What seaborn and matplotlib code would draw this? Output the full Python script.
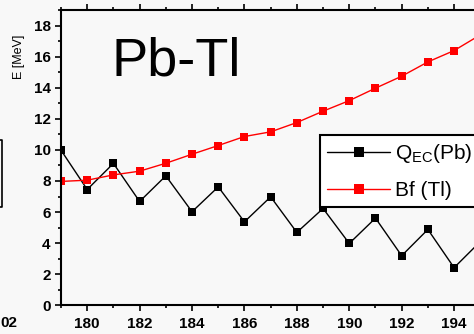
import matplotlib
matplotlib.use("Agg")
import matplotlib.pyplot as plt
from matplotlib.lines import Line2D
from matplotlib.ticker import MultipleLocator
import seaborn as sns
import pandas as pd

# ---- data ----
mass_numbers = [179, 180, 181, 182, 183, 184, 185, 186, 187, 188, 189, 190, 191, 192, 193, 194, 195]
qec_pb = [9.98, 7.45, 9.13, 6.68, 8.33, 6.02, 7.62, 5.37, 6.98, 4.69, 6.23, 3.98, 5.61, 3.19, 4.88, 2.42, 4.1]
bf_tl = [7.97, 8.05, 8.39, 8.63, 9.14, 9.72, 10.28, 10.86, 11.16, 11.76, 12.49, 13.17, 13.97, 14.74, 15.66, 16.39, 17.4]
series_labels = [r"Q$_{\mathrm{EC}}$(Pb)", "Bf (Tl)"]
x_ticks = [180, 182, 184, 186, 188, 190, 192, 194]
y_ticks = [0, 2, 4, 6, 8, 10, 12, 14, 16, 18]
title_text = "Pb-Tl"
y_label = "E [MeV]"

df = pd.DataFrame({
    "A": mass_numbers * 2,
    "E": qec_pb + bf_tl,
    "series": [series_labels[0]] * len(mass_numbers) + [series_labels[1]] * len(mass_numbers),
})

sns.set_style("ticks")
plt.rcParams["font.family"] = ["Liberation Sans", "DejaVu Sans"]
plt.rcParams["mathtext.fontset"] = "custom"
plt.rcParams["mathtext.rm"] = "Liberation Sans"
plt.rcParams["mathtext.it"] = "Liberation Sans:italic"
plt.rcParams["mathtext.bf"] = "Liberation Sans:bold"
for key in ["text.color", "axes.labelcolor", "xtick.color", "ytick.color", "axes.edgecolor"]:
    plt.rcParams[key] = "black"

bg = "#f8f8f8"
fig = plt.figure(figsize=(4.74, 3.34), dpi=100, facecolor=bg)
W, H = 474, 334
left_px, top_px, bottom_px = 61, 10, 305.3
right_px = 87.3 + 15 * 26.2
ax = fig.add_axes([left_px / W, 1 - bottom_px / H, (right_px - left_px) / W, (bottom_px - top_px) / H])
ax.set_facecolor(bg)

palette = {series_labels[0]: "black", series_labels[1]: "#ff0000"}
sns.lineplot(data=df, x="A", y="E", hue="series", palette=palette, marker="s",
             markersize=6.3, markeredgewidth=0, linewidth=1.0, ax=ax, legend=False)

ax.set_xlim(179, 195)
ax.set_ylim(0, 19)
ax.set_xticks(x_ticks)
ax.set_yticks(y_ticks)
ax.xaxis.set_minor_locator(MultipleLocator(1))
ax.yaxis.set_minor_locator(MultipleLocator(1))
for lab in ax.get_xticklabels() + ax.get_yticklabels():
    lab.set_fontweight("bold")
    lab.set_fontsize(11)
    lab.set_color("black")
ax.tick_params(axis="both", which="major", direction="out", length=4.5, width=1.2, color="black", pad=2)
ax.tick_params(axis="both", which="minor", direction="out", length=2.5, width=1.2, color="black")
ax.tick_params(axis="x", which="both", top=True, labeltop=False)
ax.tick_params(axis="x", which="major", pad=4)
ax.tick_params(axis="y", which="major", pad=3)
for side in ["left", "bottom", "top", "right"]:
    ax.spines[side].set_linewidth(1.5)
    ax.spines[side].set_color("black")
ax.set_xlabel("")
ax.set_ylabel(y_label, fontsize=9, color="black")
ax.yaxis.set_label_coords(-(left_px - 25) / (right_px - left_px), 0.84)

ax.text(111 / W, 1 - 76 / H, title_text, transform=fig.transFigure, fontsize=39,
        ha="left", va="baseline", color="black")

handles = [
    Line2D([], [], color="black", marker="s", markersize=7, markeredgewidth=0, linewidth=1.0),
    Line2D([], [], color="#ff0000", marker="s", markersize=7, markeredgewidth=0, linewidth=1.0),
]
leg = fig.legend(handles, series_labels, loc="upper left", bbox_to_anchor=(320 / W, 1 - 135 / H),
                 fontsize=15, frameon=True, fancybox=False, handlelength=3.0, handletextpad=0.25,
                 borderpad=0.35, labelspacing=0.75, borderaxespad=0)
leg.get_frame().set_edgecolor("black")
leg.get_frame().set_linewidth(1.5)
leg.get_frame().set_facecolor("white")
leg.get_frame().set_alpha(1)

# fragments of the neighbouring panel at the left edge
fig.add_artist(Line2D([0, 2 / W, 2 / W, 0], [1 - 140 / H, 1 - 140 / H, 1 - 207 / H, 1 - 207 / H],
                      transform=fig.transFigure, color="black", linewidth=1.2))
fig.text(0.5 / W, 1 - 327 / H, "02", fontsize=11, fontweight="bold", ha="left", va="baseline")

fig.savefig("out.png", dpi=100, facecolor=bg)
